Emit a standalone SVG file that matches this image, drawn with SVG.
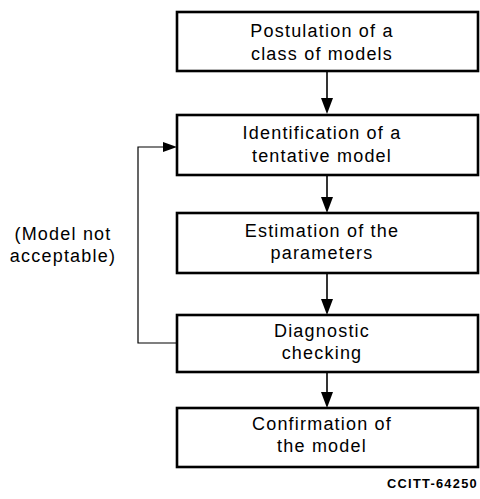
<svg xmlns="http://www.w3.org/2000/svg" width="480" height="499" viewBox="0 0 480 499">
  <style>
    .box { fill: #ffffff; stroke: #000000; stroke-width: 2.6; }
    .lbl { font-family: "Liberation Sans", Arial, sans-serif; font-size: 18px; letter-spacing: 1.2px; fill: #000000; text-anchor: middle; }
    .flow { stroke: #000000; stroke-width: 1.6; fill: none; }
    .fb { stroke: #000000; stroke-width: 1.2; fill: none; }
    .head { fill: #000000; stroke: none; }
    .note { font-family: "Liberation Sans", Arial, sans-serif; font-size: 18px; letter-spacing: 1.2px; fill: #000000; text-anchor: middle; }
    .ref { font-family: "Liberation Sans", Arial, sans-serif; font-size: 13px; font-weight: bold; letter-spacing: 1.3px; fill: #000000; }
  </style>
  <rect width="480" height="499" fill="#ffffff"/>

  <g id="connectors">
    <line class="flow" x1="327" y1="71" x2="327" y2="100"/>
    <polygon class="head" points="321,98 333,98 327,114"/>
    <line class="flow" x1="327" y1="175" x2="327" y2="199"/>
    <polygon class="head" points="321,197 333,197 327,213"/>
    <line class="flow" x1="327" y1="273" x2="327" y2="301"/>
    <polygon class="head" points="321,299 333,299 327,315"/>
    <line class="flow" x1="327" y1="372" x2="327" y2="394"/>
    <polygon class="head" points="321,392 333,392 327,408"/>
    <polyline class="fb" points="177,343 138,343 138,147 165,147"/>
    <polygon class="head" points="163,142 163,152 177,147"/>
  </g>

  <g id="n1">
    <rect class="box" x="177" y="12" width="301" height="59"/>
    <text class="lbl" x="322" y="37">Postulation of a</text>
    <text class="lbl" x="322" y="60">class of models</text>
  </g>
  <g id="n2">
    <rect class="box" x="177" y="115" width="301" height="60"/>
    <text class="lbl" x="322" y="139">Identification of a</text>
    <text class="lbl" x="322" y="162">tentative model</text>
  </g>
  <g id="n3">
    <rect class="box" x="177" y="213" width="301" height="60"/>
    <text class="lbl" x="322" y="237">Estimation of the</text>
    <text class="lbl" x="322" y="259">parameters</text>
  </g>
  <g id="n4">
    <rect class="box" x="177" y="315" width="301" height="57"/>
    <text class="lbl" x="322" y="337">Diagnostic</text>
    <text class="lbl" x="322" y="359">checking</text>
  </g>
  <g id="n5">
    <rect class="box" x="177" y="408" width="301" height="59"/>
    <text class="lbl" x="322" y="430">Confirmation of</text>
    <text class="lbl" x="322" y="452">the model</text>
  </g>

  <g id="note">
    <text class="note" x="63" y="240">(Model not</text>
    <text class="note" x="63" y="262">acceptable)</text>
  </g>
  <text class="ref" x="387" y="488" textLength="91" lengthAdjust="spacingAndGlyphs">CCITT-64250</text>
</svg>
